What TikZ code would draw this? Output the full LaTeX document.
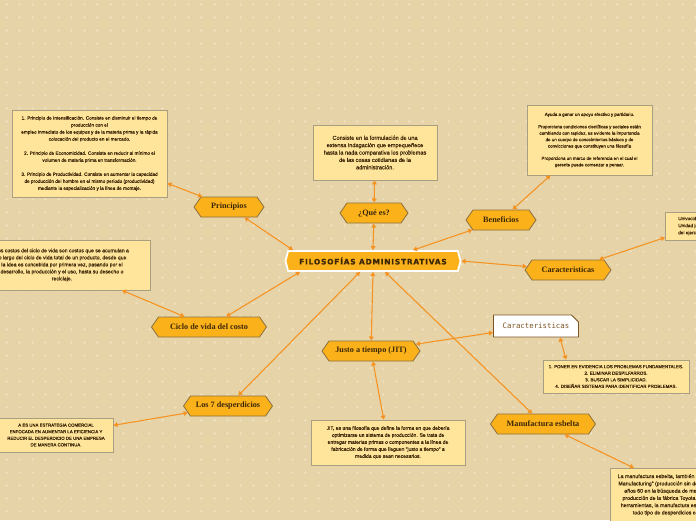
\documentclass[tikz,border=0pt]{standalone}
\usepackage{fontspec}
\setmainfont{Liberation Serif}
\setsansfont[FakeBold=0.35]{Liberation Sans}
\newfontfamily\headfont[LetterSpace=10,FakeBold=0.6]{DejaVu Sans}
\newfontfamily\monofont{DejaVu Sans Mono}
\usetikzlibrary{shapes.symbols,shapes.misc,arrows.meta}
\definecolor{bg}{RGB}{230,211,167}
\definecolor{grain}{RGB}{238,224,190}
\definecolor{topic}{RGB}{251,178,26}
\definecolor{topicline}{RGB}{140,112,62}
\definecolor{link}{RGB}{246,146,32}
\definecolor{note}{RGB}{255,228,155}
\definecolor{noteline}{RGB}{168,158,130}
\definecolor{ink}{RGB}{60,38,8}
\definecolor{mono}{RGB}{125,85,35}
\tikzset{
  topic/.style={signal, signal to=east and west, signal pointer angle=110, fill=topic,
    draw=topicline, line width=0.7pt, text=ink, minimum height=0.6cm, inner sep=1pt,
    font=\fontsize{7}{8}\selectfont\bfseries},
  notebox/.style={rectangle, fill=note, draw=noteline, line width=0.6pt, text=ink,
    align=center, inner sep=2pt, font=\sffamily\fontsize{4.3}{6}\selectfont},
  link/.style={draw=link, line width=0.9pt,
    {Triangle[length=3.5pt,width=4pt]}-{Triangle[length=3.5pt,width=4pt]}}
}

\begin{document}
\begin{tikzpicture}[x=0.03cm,y=-0.03cm]
  \fill[bg] (0,0) rectangle (696,520);
  \useasboundingbox (0,0) rectangle (696,520);
  \foreach \i in {0,...,53}
    \foreach \j in {0,...,40}
      \draw[grain,line width=0.3pt] (\i*13+6,\j*13+4) +(-1.5,0) -- +(1.5,0) +(0,-1.5) -- +(0,1.5);

  \node[topic, draw=white, line width=1.5pt, signal pointer angle=150, minimum width=5.25cm,
    font=\headfont\fontsize{6.4}{7}\selectfont\bfseries] (main) at (373,261) {FILOSOFÍAS ADMINISTRATIVAS};
  \node[topic, minimum width=2.1cm] (principios) at (229,207) {Principios};
  \node[topic, minimum width=2.04cm] (que) at (374,213) {¿Qué es?};
  \node[topic, minimum width=2.1cm] (beneficios) at (501,220) {Beneficios};
  \node[topic, minimum width=2.58cm] (carac) at (568,270) {Caracteristicas};
  \node[topic, minimum width=3.45cm] (ciclo) at (209,327) {Ciclo de vida del costo};
  \node[topic, minimum width=2.94cm] (jit) at (371,351) {Justo a tiempo (JIT)};
  \node[topic, minimum width=2.67cm] (desp) at (228,406) {Los 7 desperdicios};
  \node[topic, minimum width=3.15cm] (manuf) at (543,424) {Manufactura esbelta};
  \node[chamfered rectangle, chamfered rectangle corners=north east, chamfered rectangle xsep=3pt,
    chamfered rectangle ysep=3pt, fill=white, draw=mono, line width=0.7pt, text=mono,
    minimum width=2.55cm, minimum height=0.66cm, font=\monofont\fontsize{6.3}{7}\selectfont] (carac2) at (536,326) {Caracteristicas};

  \node[notebox, minimum width=4.65cm, minimum height=2.61cm, font=\sffamily\fontsize{4}{6}\selectfont] (intro) at (89.5,153.5)
    {1. Principio de Intensificación. Consiste en disminuir el tiempo de\\producción con el\\
     empleo inmediato de los equipos y de la materia prima y la rápida\\colocación del producto en el mercado.\\[6pt]
     2. Principio de Economicidad. Consiste en reducir al mínimo el\\volumen de materia prima en transformación.\\[6pt]
     3. Principio de Productividad. Consiste en aumentar la capacidad\\de producción del hombre en el mismo periodo (productividad)\\
     mediante la especialización y la línea de montaje.};
  \node[notebox, minimum width=5.28cm, minimum height=1.5cm, font=\sffamily\fontsize{4.4}{6}\selectfont] (costos) at (62,265)
    {Los costos del ciclo de vida son costos que se acumulan a\\lo largo del ciclo de vida total de un producto, desde que\\
     la idea es concebida por primera vez, pasando por el\\desarrollo, la producción y el uso, hasta su desecho o\\reciclaje.};
  \node[notebox, minimum width=3.72cm, minimum height=1.65cm, font=\sffamily\fontsize{4.8}{6.3}\selectfont] (def) at (375,152.5)
    {Consiste en la formulación de una\\extensa indagación que empequeñece\\hasta la nada comparativa los problemas\\
     de las cosas cotidianas de la\\administración.};
  \node[notebox, minimum width=3.75cm, minimum height=2.1cm, font=\sffamily\fontsize{3.8}{5.5}\selectfont] (ventajas) at (589.5,140)
    {Ayuda a ganar un apoyo efectivo y partidario.\\[5pt]
     Proporciona condiciones científicas y sociales están\\cambiando con rapidez, es evidente la importancia\\
     de un cuerpo de conocimientos básicos y de\\convicciones que constituyen una filosofía\\[5pt]
     Proporciona un marco de referencia en el cual el\\gerente puede comenzar a pensar.};
  \node[notebox, anchor=west, align=left, inner xsep=11pt, minimum height=0.84cm, font=\sffamily\fontsize{4}{6}\selectfont] (rasgos) at (665,226)
    {Univocidad de fines.\\Unidad jerárquica\\del ejercicio.};
  \node[notebox, minimum width=3.42cm, minimum height=1.02cm, font=\sffamily\fontsize{3.7}{5.6}\selectfont] (lean) at (56,435)
    {A ES UNA ESTRATEGIA COMERCIAL\\ENFOCADA EN AUMENTAR LA EFICIENCIA Y\\REDUCIR EL DESPERDICIO DE UNA EMPRESA\\DE MANERA CONTINUA.};
  \node[notebox, minimum width=4.62cm, minimum height=1.35cm] (jitnota) at (388,442.5)
    {JIT, es una filosofía que define la forma en que debería\\optimizarse un sistema de producción. Se trata de\\
     entregar materias primas o componentes a la línea de\\fabricación de forma que lleguen "justo a tiempo" a\\medida que sean necesarios.};
  \node[notebox, minimum width=4.38cm, minimum height=0.99cm, font=\sffamily\fontsize{3.8}{5.6}\selectfont] (lista) at (616,376.5)
    {1. PONER EN EVIDENCIA LOS PROBLEMAS FUNDAMENTALES.\\2. ELIMINAR DESPILFARROS.\\3. BUSCAR LA SIMPLICIDAD.\\
     4. DISEÑAR SISTEMAS PARA IDENTIFICAR PROBLEMAS.};
  \node[notebox, anchor=north, minimum width=4.32cm, inner ysep=5pt, font=\sffamily\fontsize{4.5}{6.2}\selectfont] (esbelta) at (682,468)
    {La manufactura esbelta, también conocida como "Lean\\Manufacturing" (producción sin desperdicio), surgió en\\
     años 60 en la búsqueda de mejorar el sistema de\\producción de la fábrica Toyota. Mediante diversas\\
     herramientas, la manufactura esbelta busca eliminar\\todo tipo de desperdicios en los procesos.};

  \draw[link] ([xshift=-2.4cm]main.north) -- (principios);
  \draw[link] (main.north) -- (que);
  \draw[link] ([xshift=1.2cm]main.north) -- (beneficios);
  \draw[link] (main.east) -- (carac);
  \draw[link] ([xshift=-2.19cm]main.south) -- (ciclo);
  \draw[link] (main.south) -- (jit);
  \draw[link] ([xshift=-0.39cm]main.south) -- (desp);
  \draw[link] ([xshift=0.36cm]main.south) -- (manuf);
  \draw[link] (principios) -- (intro);
  \draw[link] (que) -- (def);
  \draw[link] (beneficios) -- (ventajas);
  \draw[link] (carac) -- (rasgos);
  \draw[link] (ciclo) -- (costos);
  \draw[link] (jit) -- (carac2);
  \draw[link] (jit) -- (jitnota);
  \draw[link] (desp) -- (lean);
  \draw[link] ([xshift=0.72cm]carac2.south) -- ([xshift=-1.5cm]lista.north);
  \draw[link] (manuf) -- ([xshift=-1.44cm]esbelta.north);
\end{tikzpicture}
\end{document}
